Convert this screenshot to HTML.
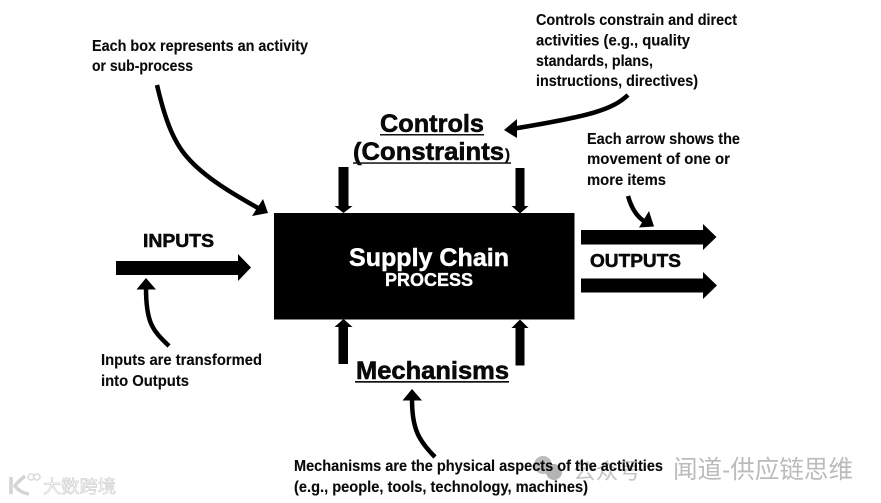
<!DOCTYPE html>
<html><head><meta charset="utf-8">
<style>
html,body{margin:0;padding:0;background:#fff;width:881px;height:503px;overflow:hidden}
svg{display:block}
text{font-family:"Liberation Sans","Noto Sans CJK SC",sans-serif;font-weight:bold;fill:#0a0a0a}
.n{font-size:15.6px;stroke:#0a0a0a;stroke-width:.12px}
.h{font-size:25px;stroke:#000;stroke-width:.55px}
.l{font-size:18px;stroke:#000;stroke-width:.5px}
.c{fill:none;stroke:#000;stroke-linecap:butt}
</style></head>
<body>
<svg width="881" height="503" viewBox="0 0 881 503" xmlns="http://www.w3.org/2000/svg">
<rect width="881" height="503" fill="#fff"/>

<!-- process box -->
<rect x="274" y="213" width="300.5" height="106.5" fill="#000"/>
<text x="349" y="266" style="fill:#fff;stroke:#fff;stroke-width:.45px;font-size:25px" textLength="160" lengthAdjust="spacingAndGlyphs">Supply Chain</text>
<text x="385" y="286" style="fill:#fff;stroke:#fff;stroke-width:.35px;font-size:18px" textLength="88" lengthAdjust="spacingAndGlyphs">PROCESS</text>

<!-- headings -->
<text class="h" x="380" y="132" textLength="104" lengthAdjust="spacingAndGlyphs">Controls</text>
<rect x="380" y="134" width="104" height="1.5" fill="#111"/>
<text class="h" x="353" y="160" textLength="151" lengthAdjust="spacingAndGlyphs">(Constraints</text>
<text x="505" y="159.5" style="font-size:15px;stroke:#000;stroke-width:.3px">)</text>
<rect x="353" y="162.3" width="158" height="1.5" fill="#111"/>
<text class="h" x="356" y="379" textLength="153" lengthAdjust="spacingAndGlyphs">Mechanisms</text>
<rect x="355" y="381" width="154" height="1.7" fill="#111"/>
<text class="l" x="143" y="247" textLength="71" lengthAdjust="spacingAndGlyphs">INPUTS</text>
<text class="l" x="590" y="267" textLength="91" lengthAdjust="spacingAndGlyphs">OUTPUTS</text>

<!-- straight block arrows -->
<polygon fill="#000" points="116,261 238,261 238,254 251,267.5 238,281 238,275 116,275"/>
<polygon fill="#000" points="581,230 703,230 703,224 716.5,237 703,250 703,244.5 581,244.5"/>
<polygon fill="#000" points="581,278.5 703,278.5 703,272 717,285.5 703,299 703,292.5 581,292.5"/>
<polygon fill="#000" points="338.5,167 348.5,167 348.5,206 352.5,206 343.5,213 334.5,206 338.5,206"/>
<polygon fill="#000" points="515.5,168 524.5,168 524.5,206 528.5,206 520,213.5 511.5,206 515.5,206"/>
<polygon fill="#000" points="338.5,364 348,364 348,327 352.5,327 343.5,319 334.5,327 338.5,327"/>
<polygon fill="#000" points="515.5,365.5 524.5,365.5 524.5,328 528.5,328 520,319.5 511.5,328 515.5,328"/>

<!-- curved callout arrows -->
<path class="c" stroke-width="4.5" d="M157,85 C164,115 172,140 187,157 C205,178 235,195 258,208"/>
<polygon fill="#000" points="268,213 252,216 263,199"/>

<path class="c" stroke-width="4.5" d="M628,95 C612,110 590,116 515,128.5"/>
<polygon fill="#000" points="504,130 517,119 517,138"/>

<path class="c" stroke-width="4.5" d="M628,196 C632,210 638,218 647,223"/>
<polygon fill="#000" points="654,226.5 639,227.5 649,211"/>

<path class="c" stroke-width="4.5" d="M169,346 C152,330 146,322 146,288"/>
<polygon fill="#000" points="146,278 156,289.5 136.5,289.5"/>

<path class="c" stroke-width="4.5" d="M435,457 C418,440 412,428 412,399"/>
<polygon fill="#000" points="412,389 422,400.5 402.5,400.5"/>

<!-- watermarks beneath bottom note -->
<circle cx="543" cy="465" r="9" fill="#bdbdbd"/>
<circle cx="554" cy="472" r="8" fill="#b4b4b4"/>
<text x="573" y="479" style="font-size:22px;font-weight:normal;fill:#c4c4c4" textLength="68" lengthAdjust="spacingAndGlyphs">公众号</text>
<text x="673" y="478" style="font-size:25px;font-weight:normal;fill:#bbb" textLength="180" lengthAdjust="spacingAndGlyphs">闻道-供应链思维</text>

<text x="43" y="493" style="font-size:18px;fill:#fff;stroke:#d2d2d2;stroke-width:.7px;font-weight:normal" textLength="73" lengthAdjust="spacingAndGlyphs">大数跨境</text>
<path d="M11,477 L11,494 M25,476 C19,481 16,484 15,486 C18,490 22,493 29,494" fill="none" stroke="#d4d4d4" stroke-width="3.5"/>
<circle cx="31" cy="477" r="3" fill="none" stroke="#d8d8d8" stroke-width="1.4"/>
<circle cx="37" cy="477" r="3" fill="none" stroke="#d8d8d8" stroke-width="1.4"/>

<!-- notes -->
<text class="n" x="92" y="51" textLength="216" lengthAdjust="spacingAndGlyphs">Each box represents an activity</text>
<text class="n" x="92" y="71" textLength="101" lengthAdjust="spacingAndGlyphs">or sub-process</text>

<text class="n" x="536" y="25" textLength="201" lengthAdjust="spacingAndGlyphs">Controls constrain and direct</text>
<text class="n" x="536" y="45.5" textLength="154" lengthAdjust="spacingAndGlyphs">activities (e.g., quality</text>
<text class="n" x="536" y="66" textLength="117" lengthAdjust="spacingAndGlyphs">standards, plans,</text>
<text class="n" x="536" y="86" textLength="162" lengthAdjust="spacingAndGlyphs">instructions, directives)</text>

<text class="n" x="587" y="144" textLength="153" lengthAdjust="spacingAndGlyphs">Each arrow shows the</text>
<text class="n" x="587" y="164" textLength="143" lengthAdjust="spacingAndGlyphs">movement of one or</text>
<text class="n" x="587" y="185" textLength="79" lengthAdjust="spacingAndGlyphs">more items</text>

<text class="n" x="101" y="365" textLength="161" lengthAdjust="spacingAndGlyphs">Inputs are transformed</text>
<text class="n" x="101" y="386" textLength="88" lengthAdjust="spacingAndGlyphs">into Outputs</text>

<text class="n" x="294" y="471" textLength="369" lengthAdjust="spacingAndGlyphs">Mechanisms are the physical aspects of the activities</text>
<text class="n" x="294" y="492" textLength="294" lengthAdjust="spacingAndGlyphs">(e.g., people, tools, technology, machines)</text>
</svg>
</body></html>
